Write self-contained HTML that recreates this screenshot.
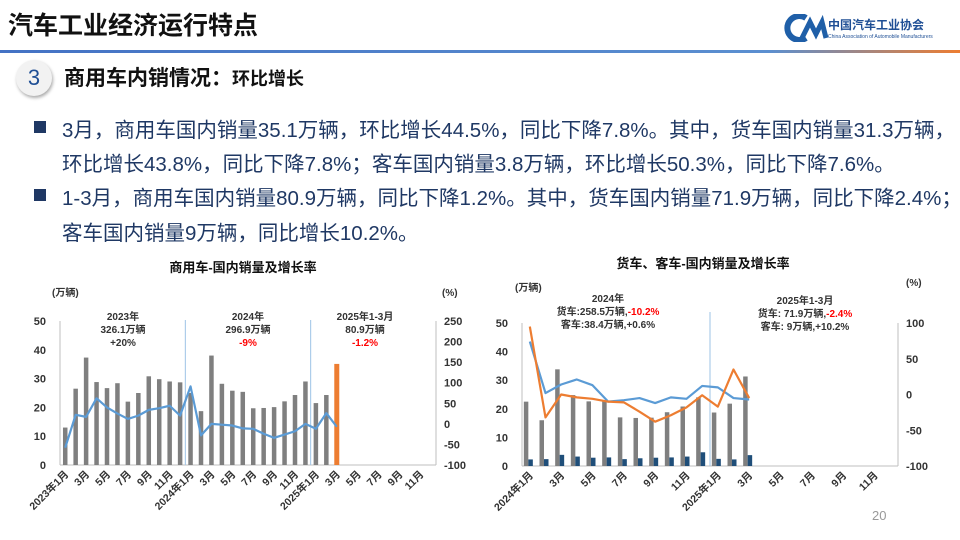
<!DOCTYPE html>
<html><head><meta charset="utf-8">
<style>
body{margin:0;width:960px;height:540px;overflow:hidden;background:#fff;font-family:"Liberation Sans","Noto Sans CJK SC",sans-serif;position:relative}
.abs{position:absolute}
.bul{position:absolute;left:34px;width:12px;height:12px;background:#1f3864}
.txt{position:absolute;left:62px;font-size:20.5px;color:#1f3864;white-space:nowrap;letter-spacing:0}
</style></head><body>
<div class="abs" style="left:8px;top:6px;font-size:25px;font-weight:bold;color:#111">汽车工业经济运行特点</div>
<div class="abs" style="left:780px;top:14px;width:160px;height:30px">
 <svg width="50" height="28"><path d="M26 4 A12 12 0 1 0 26 24" stroke="#1f5fa8" stroke-width="6" fill="none"/><path d="M22 24 L30 8 L36 20 L42 8 L46 24" stroke="#1f5fa8" stroke-width="5" fill="none"/></svg>
 <div class="abs" style="left:48px;top:2px;font-size:12px;font-weight:bold;color:#1f4f95">中国汽车工业协会</div>
 <div class="abs" style="left:48px;top:20px;font-size:5px;color:#1f4f95">China Association of Automobile Manufacturers</div>
</div>
<div class="abs" style="left:0;top:50px;width:960px;height:3px;background:linear-gradient(90deg,#4472c4 0%,#5b8fd0 80%,#ed7d31 100%)"></div>
<div class="abs" style="left:16px;top:60px;width:36px;height:36px;border-radius:50%;background:#f2f2f2;box-shadow:1px 2px 3px #aaa;text-align:center;line-height:36px;font-size:22px;color:#1f4f95">3</div>
<div class="abs" style="left:64px;top:62px;font-size:21px;font-weight:bold;color:#111">商用车内销情况：<span style="font-size:18px">环比增长</span></div>
<div class="bul" style="top:121px"></div>
<div class="txt" style="top:113px">3月，商用车国内销量35.1万辆，环比增长44.5%，同比下降7.8%。其中，货车国内销量31.3万辆，</div>
<div class="txt" style="top:147px">环比增长43.8%，同比下降7.8%；客车国内销量3.8万辆，环比增长50.3%，同比下降7.6%。</div>
<div class="bul" style="top:189px"></div>
<div class="txt" style="top:181px">1-3月，商用车国内销量80.9万辆，同比下降1.2%。其中，货车国内销量71.9万辆，同比下降2.4%；</div>
<div class="txt" style="top:216px">客车国内销量9万辆，同比增长10.2%。</div>
<div class="abs" style="left:872px;top:508px;font-size:13px;color:#999">20</div>

<svg id="c1" class="abs" style="left:0;top:0" width="960" height="540"></svg>

<script>
// Chart 1 data
const c1Cats = ["2023年1月","","3月","","5月","","7月","","9月","","11月","","2024年1月","","3月","","5月","","7月","","9月","","11月","","2025年1月","","3月","","5月","","7月","","9月","","11月",""];
const c1Sales = [13,26.5,37.3,28.8,26.7,28.4,22,25,30.8,29.8,29,28.7,25,18.7,38,28.2,25.8,25.4,19.7,19.8,20.1,22.1,24.3,29,21.5,24.3,35.1];
const c1Growth = [-58,22,17,62,40,25,12,20,34,38,44,20,91,-28,0,-2,-4,-11,-12,-24,-34,-26,-18,0,-12,26,-7];
const c1LeftTicks = [0,10,20,30,40,50];
const c1RightTicks = [-100,-50,0,50,100,150,200,250];
// Chart 2 data
const c2Cats = ["2024年1月","","3月","","5月","","7月","","9月","","11月","","2025年1月","","3月","","5月","","7月","","9月","","11月",""];
const c2Truck = [22.5,16,33.8,24.8,22.6,22.7,17,16.8,16.9,18.8,20.8,24,18.7,21.8,31.3];
const c2Bus = [2.3,2.4,3.9,3.3,2.9,3,2.4,2.7,2.9,3,3.3,4.8,2.5,2.3,3.8];
const c2TruckGrowth = [74,2,14,21,13,-10,-8,-5,-12,-4,-6,12,10,-5,-7];
const c2BusGrowth = [95,-32,0,-4,-6,-10,-11,-24,-38,-29,-18,-1,-17,35,-5];
const c2LeftTicks = [0,10,20,30,40,50];
const c2RightTicks = [-100,-50,0,50,100];

const svg = document.getElementById('c1');
const NS = 'http://www.w3.org/2000/svg';
function mk(tag, attrs, text){const e=document.createElementNS(NS,tag);for(const k in attrs)e.setAttribute(k,attrs[k]);if(text!==undefined)e.textContent=text;svg.appendChild(e);return e;}

function axes(x0,x1,y0,y1,lmin,lmax,rmin,rmax,lt,rt,cats){
  const yl=v=>y0-(v-lmin)/(lmax-lmin)*(y0-y1);
  const yr=v=>y0-(v-rmin)/(rmax-rmin)*(y0-y1);
  const cw=(x1-x0)/cats.length;
  const xc=i=>x0+cw*(i+0.5);
  let e=mk('line',{x1:x0,y1:y1,x2:x0,y2:y0,stroke:'#bfbfbf'});
  
  e=mk('line',{x1:x1,y1:y1,x2:x1,y2:y0,stroke:'#bfbfbf'});
  
  e=mk('line',{x1:x0,y1:y0,x2:x1,y2:y0,stroke:'#bfbfbf'});
  
  lt.forEach(v=>{e=mk('text',{x:x0-14,y:yl(v)+4,'text-anchor':'end','font-size':11,'font-weight':'bold',fill:'#333'},v);
    });
  rt.forEach(v=>{e=mk('text',{x:x1+8,y:yr(v)+4,'font-size':11,'font-weight':'bold',fill:'#333'},v);
    });
  cats.forEach((c,i)=>{if(!c)return;const x=xc(i)+4,y=y0+10;
    e=mk('text',{x:x,y:y,'text-anchor':'end','font-size':10.5,'font-weight':'bold',fill:'#333',transform:`rotate(-45 ${x} ${y})`},c);
    });
  return {yl,yr,xc,cw};
}
function line(pts,color,name){const e=mk('polyline',{points:pts.join(' '),fill:'none',stroke:color,'stroke-width':2.2,'stroke-linejoin':'round'});
  }

// ---- Chart 1
let t=mk('text',{x:243,y:272,'text-anchor':'middle','font-size':13,'font-weight':'bold',fill:'#111'},'商用车-国内销量及增长率');

t=mk('text',{x:52,y:296,'font-size':10,'font-weight':'bold',fill:'#333'},'(万辆)');

t=mk('text',{x:442,y:296,'font-size':10,'font-weight':'bold',fill:'#333'},'(%)');

const A=axes(60,436,465,321,0,50,-100,250,c1LeftTicks,c1RightTicks,c1Cats);
[12,24].forEach(i=>{const x=60+A.cw*i;const e=mk('line',{x1:x,y1:320,x2:x,y2:465,stroke:'#9dc3e6','stroke-width':1});
  });
c1Sales.forEach((v,i)=>{const last=i===c1Sales.length-1;const w=last?5:4.5;
  const e=mk('rect',{x:A.xc(i)-w/2,y:A.yl(v),width:w,height:465-A.yl(v),fill:last?'#ed7d31':'#7f7f7f'});
  });
line(c1Growth.map((v,i)=>A.xc(i)+','+A.yr(v)),'#5b9bd5','growth-line');
[[123,320,'2023年','#333'],[123,333,'326.1万辆','#333'],[123,346,'+20%','#333'],
 [248,320,'2024年','#333'],[248,333,'296.9万辆','#333'],[248,346,'-9%','#ff0000'],
 [365,320,'2025年1-3月','#333'],[365,333,'80.9万辆','#333'],[365,346,'-1.2%','#ff0000']].forEach(a=>{
  const e=mk('text',{x:a[0],y:a[1],'text-anchor':'middle','font-size':10,'font-weight':'bold',fill:a[3]},a[2]);
  });

// ---- Chart 2
t=mk('text',{x:703,y:268,'text-anchor':'middle','font-size':13,'font-weight':'bold',fill:'#111'},'货车、客车-国内销量及增长率');

t=mk('text',{x:515,y:291,'font-size':10,'font-weight':'bold',fill:'#333'},'(万辆)');

t=mk('text',{x:906,y:286,'font-size':10,'font-weight':'bold',fill:'#333'},'(%)');

const B=axes(522,898,466,323,0,50,-100,100,c2LeftTicks,c2RightTicks,c2Cats);
{const x=522+B.cw*12;const e=mk('line',{x1:x,y1:312,x2:x,y2:466,stroke:'#9dc3e6','stroke-width':1});
 }
c2Truck.forEach((v,i)=>{const e=mk('rect',{x:B.xc(i)-6,y:B.yl(v),width:4.5,height:466-B.yl(v),fill:'#7f7f7f'});
  });
c2Bus.forEach((v,i)=>{const e=mk('rect',{x:B.xc(i)-1.5,y:B.yl(v),width:4.5,height:466-B.yl(v),fill:'#1f4e79'});
  });
line(c2TruckGrowth.map((v,i)=>B.xc(i)+','+B.yr(v)),'#5b9bd5','truck-growth-line');
line(c2BusGrowth.map((v,i)=>B.xc(i)+','+B.yr(v)),'#ed7d31','bus-growth-line');
[[608,302,[['2024年','#333']]],[608,315,[['货车:258.5万辆,','#333'],['-10.2%','#ff0000']]],[608,328,[['客车:38.4万辆,+0.6%','#333']]],
 [805,304,[['2025年1-3月','#333']]],[805,317,[['货车: 71.9万辆,','#333'],['-2.4%','#ff0000']]],[805,330,[['客车: 9万辆,+10.2%','#333']]]].forEach(a=>{
  const e=mk('text',{x:a[0],y:a[1],'text-anchor':'middle','font-size':10,'font-weight':'bold',fill:'#333'});
  
  a[2].forEach(p=>{const s=document.createElementNS(NS,'tspan');s.setAttribute('fill',p[1]);s.textContent=p[0];e.appendChild(s);});});
</script>
</body></html>
